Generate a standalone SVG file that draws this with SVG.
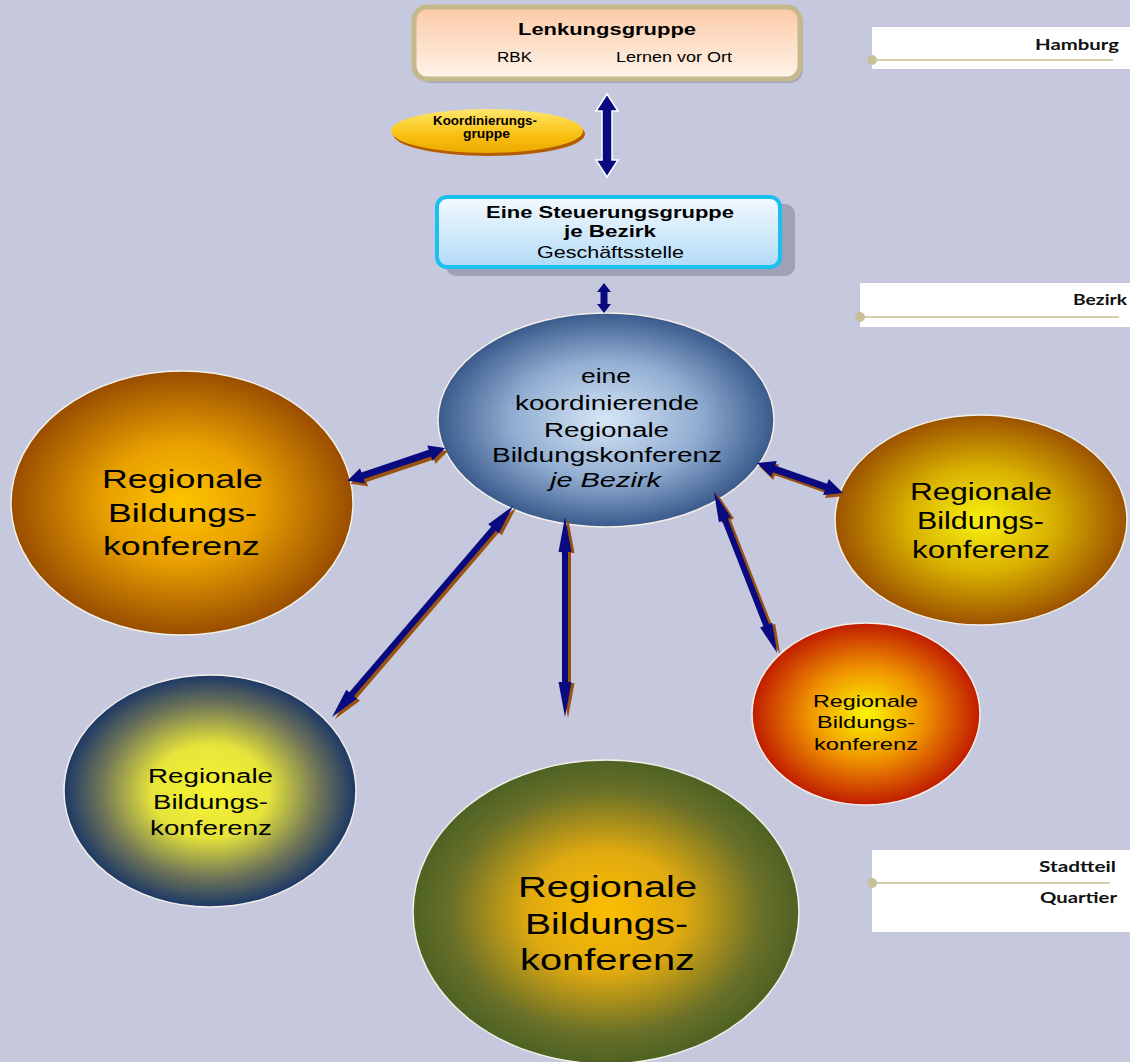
<svg xmlns="http://www.w3.org/2000/svg" width="1130" height="1062" viewBox="0 0 1130 1062">
<defs>
<style>
.t{font-family:"Liberation Sans",Arial,sans-serif;fill:#000}
.b{font-weight:bold}
.lg{font-family:Lato,"Open Sans",sans-serif;font-weight:bold;fill:#111}
.arr{fill:#0a0a80}
.sh{fill:#9a5210}
.ell{stroke:#f4f0e8;stroke-width:1.5}
.lline{stroke:#d6cfab;stroke-width:2}
.dot{fill:#c8c09a}
</style>
<linearGradient id="gPeach" x1="0" y1="0" x2="0" y2="1"><stop offset="0" stop-color="#fbcaa6"/><stop offset="1" stop-color="#fff4ea"/></linearGradient>
<linearGradient id="gSky" x1="0" y1="0" x2="0" y2="1"><stop offset="0" stop-color="#f4faff"/><stop offset="1" stop-color="#b2dbf6"/></linearGradient>
<linearGradient id="gGold" x1="0" y1="0" x2="0" y2="1"><stop offset="0" stop-color="#ffe66a"/><stop offset="0.6" stop-color="#f8c010"/><stop offset="1" stop-color="#eca800"/></linearGradient>
<radialGradient id="gBlue"><stop offset="0" stop-color="#d6e6f6"/><stop offset="0.55" stop-color="#92aed2"/><stop offset="1" stop-color="#3a5a8c"/></radialGradient>
<radialGradient id="gOrange"><stop offset="0" stop-color="#fec400"/><stop offset="0.45" stop-color="#e8a000"/><stop offset="1" stop-color="#994d00"/></radialGradient>
<radialGradient id="gYB"><stop offset="0" stop-color="#f8f210"/><stop offset="0.5" stop-color="#d8b000"/><stop offset="1" stop-color="#9c5200"/></radialGradient>
<radialGradient id="gRed"><stop offset="0" stop-color="#faf600"/><stop offset="0.5" stop-color="#f09400"/><stop offset="1" stop-color="#c01c00"/></radialGradient>
<radialGradient id="gNavy"><stop offset="0" stop-color="#f6f430"/><stop offset="0.4" stop-color="#e6e43a"/><stop offset="0.75" stop-color="#6e7458"/><stop offset="1" stop-color="#1c3866"/></radialGradient>
<radialGradient id="gGreen"><stop offset="0" stop-color="#fdbe00"/><stop offset="0.4" stop-color="#e0aa10"/><stop offset="0.8" stop-color="#6a7028"/><stop offset="1" stop-color="#4c6224"/></radialGradient>
</defs>
<rect width="1130" height="1062" fill="#c6c9dd"/>

<g id="legend-hamburg">
<rect x="872" y="27" width="258" height="42" fill="#fff"/>
<line class="lline" x1="872" y1="60" x2="1113" y2="60"/>
<circle class="dot" cx="872" cy="60" r="5"/>
<text class="lg" x="1035" y="50" font-size="15" textLength="84" lengthAdjust="spacingAndGlyphs">Hamburg</text>
</g>
<g id="legend-bezirk">
<rect x="860" y="283" width="270" height="44" fill="#fff"/>
<line class="lline" x1="860" y1="317" x2="1119" y2="317"/>
<circle class="dot" cx="860" cy="317" r="5"/>
<text class="lg" x="1073" y="305" font-size="15" textLength="54" lengthAdjust="spacingAndGlyphs">Bezirk</text>
</g>
<g id="legend-stadtteil">
<rect x="872" y="850" width="258" height="82" fill="#fff"/>
<line class="lline" x1="872" y1="883" x2="1110" y2="883"/>
<circle class="dot" cx="872" cy="883" r="5"/>
<text class="lg" x="1039" y="872" font-size="15" textLength="77" lengthAdjust="spacingAndGlyphs">Stadtteil</text>
<text class="lg" x="1040" y="903" font-size="15" textLength="77" lengthAdjust="spacingAndGlyphs">Quartier</text>
</g>

<g id="lenkungsgruppe">
<rect x="417" y="11" width="386" height="72" rx="13" fill="#9c9cae" opacity="0.7"/>
<rect x="414" y="7" width="386" height="72" rx="13" fill="url(#gPeach)" stroke="#c4b98c" stroke-width="5"/>
<text class="t b" x="518" y="35" font-size="16" textLength="178" lengthAdjust="spacingAndGlyphs">Lenkungsgruppe</text>
<text class="t" x="497" y="62" font-size="14" textLength="35" lengthAdjust="spacingAndGlyphs">RBK</text>
<text class="t" x="616" y="62" font-size="14" textLength="116" lengthAdjust="spacingAndGlyphs">Lernen vor Ort</text>
</g>

<g id="koordinierungsgruppe">
<ellipse cx="489" cy="134" rx="96" ry="22" fill="#b45c00"/>
<ellipse cx="487" cy="131" rx="96" ry="22" fill="url(#gGold)"/>
<text class="t b" x="433" y="125" font-size="12" textLength="104" lengthAdjust="spacingAndGlyphs">Koordinierungs-</text>
<text class="t b" x="463" y="138" font-size="12" textLength="47" lengthAdjust="spacingAndGlyphs">gruppe</text>
</g>

<g id="steuerungsgruppe">
<rect x="446" y="204" width="349" height="72" rx="10" fill="#9ea2b6"/>
<rect x="437" y="197" width="343" height="70" rx="10" fill="url(#gSky)" stroke="#19c0f0" stroke-width="4"/>
<text class="t b" x="486" y="218" font-size="17" textLength="248" lengthAdjust="spacingAndGlyphs">Eine Steuerungsgruppe</text>
<text class="t b" x="564" y="237" font-size="17" textLength="92" lengthAdjust="spacingAndGlyphs">je Bezirk</text>
<text class="t" x="537" y="258" font-size="17" textLength="147" lengthAdjust="spacingAndGlyphs">Geschäftsstelle</text>
</g>

<g id="rbk-links">
<ellipse class="ell" cx="182" cy="503" rx="171" ry="132" fill="url(#gOrange)"/>
<text class="t" x="102" y="488" font-size="26" textLength="161" lengthAdjust="spacingAndGlyphs">Regionale</text>
<text class="t" x="108" y="522" font-size="26" textLength="149" lengthAdjust="spacingAndGlyphs">Bildungs-</text>
<text class="t" x="103" y="555" font-size="26" textLength="157" lengthAdjust="spacingAndGlyphs">konferenz</text>
</g>

<g id="rbk-rechts">
<ellipse class="ell" cx="981" cy="520" rx="146" ry="105" fill="url(#gYB)"/>
<text class="t" x="910" y="500" font-size="23" textLength="142" lengthAdjust="spacingAndGlyphs">Regionale</text>
<text class="t" x="917" y="529" font-size="23" textLength="127" lengthAdjust="spacingAndGlyphs">Bildungs-</text>
<text class="t" x="912" y="558" font-size="23" textLength="138" lengthAdjust="spacingAndGlyphs">konferenz</text>
</g>

<g id="rbk-rot">
<ellipse class="ell" cx="866" cy="714" rx="114" ry="91" fill="url(#gRed)"/>
<text class="t" x="813" y="707" font-size="17" textLength="105" lengthAdjust="spacingAndGlyphs">Regionale</text>
<text class="t" x="817" y="728" font-size="17" textLength="98" lengthAdjust="spacingAndGlyphs">Bildungs-</text>
<text class="t" x="814" y="750" font-size="17" textLength="104" lengthAdjust="spacingAndGlyphs">konferenz</text>
</g>

<g id="rbk-navy">
<ellipse class="ell" cx="210" cy="791" rx="146" ry="116" fill="url(#gNavy)"/>
<text class="t" x="148" y="783" font-size="20" textLength="125" lengthAdjust="spacingAndGlyphs">Regionale</text>
<text class="t" x="153" y="809" font-size="20" textLength="115" lengthAdjust="spacingAndGlyphs">Bildungs-</text>
<text class="t" x="150" y="835" font-size="20" textLength="122" lengthAdjust="spacingAndGlyphs">konferenz</text>
</g>

<g id="rbk-gruen">
<ellipse class="ell" cx="606" cy="912" rx="193" ry="152" fill="url(#gGreen)"/>
<text class="t" x="518" y="897" font-size="30" textLength="179" lengthAdjust="spacingAndGlyphs">Regionale</text>
<text class="t" x="525" y="934" font-size="30" textLength="163" lengthAdjust="spacingAndGlyphs">Bildungs-</text>
<text class="t" x="520" y="970" font-size="30" textLength="175" lengthAdjust="spacingAndGlyphs">konferenz</text>
</g>

<g id="rbk-zentral">
<ellipse class="ell" cx="606" cy="420" rx="168" ry="107" fill="url(#gBlue)"/>
<text class="t" x="581" y="383" font-size="20" textLength="50" lengthAdjust="spacingAndGlyphs">eine</text>
<text class="t" x="515" y="410" font-size="20" textLength="184" lengthAdjust="spacingAndGlyphs">koordinierende</text>
<text class="t" x="544" y="437" font-size="20" textLength="125" lengthAdjust="spacingAndGlyphs">Regionale</text>
<text class="t" x="492" y="462" font-size="20" textLength="230" lengthAdjust="spacingAndGlyphs">Bildungskonferenz</text>
<text class="t" x="550" y="487" font-size="20" font-style="italic" textLength="111" lengthAdjust="spacingAndGlyphs">je Bezirk</text>
</g>

<g id="connectors">
<g transform="translate(607,94) rotate(90)">
<polygon class="arr" stroke="#ffffff" stroke-width="1.5" points="0,0 17,-11 17,-5 66,-5 66,-11 83,0 66,11 66,5 17,5 17,11"/>
</g>
<g transform="translate(604,283) rotate(90)">
<polygon class="arr" points="0,0 9,-7 9,-3.5 21,-3.5 21,-7 30,0 21,7 21,3.5 9,3.5 9,7"/>
</g>
<g transform="translate(448,451) rotate(161.4)"><polygon class="sh" points="0,0 16,-8 16,-3.5 87,-3.5 87,-8 103,0 87,8 87,3.5 16,3.5 16,8"/></g>
<g transform="translate(445,448) rotate(161.4)"><polygon class="arr" points="0,0 16,-8 16,-3.5 87,-3.5 87,-8 103,0 87,8 87,3.5 16,3.5 16,8"/></g>
<g transform="translate(516,508) rotate(130.6)"><polygon class="sh" points="0,0 30,-7 30,-3 248,-3 248,-7 278,0 248,7 248,3 30,3 30,7"/></g>
<g transform="translate(513,506) rotate(130.6)"><polygon class="arr" points="0,0 30,-7 30,-3 248,-3 248,-7 278,0 248,7 248,3 30,3 30,7"/></g>
<g transform="translate(568,518) rotate(90)"><polygon class="sh" points="0,0 35,-6.5 35,-3 165,-3 165,-6.5 200,0 165,6.5 165,3 35,3 35,6.5"/></g>
<g transform="translate(565,517) rotate(90)"><polygon class="arr" points="0,0 35,-6.5 35,-3 165,-3 165,-6.5 200,0 165,6.5 165,3 35,3 35,6.5"/></g>
<g transform="translate(717,493) rotate(68.6)"><polygon class="sh" points="0,0 30,-6.5 30,-3 143,-3 143,-6.5 173,0 143,6.5 143,3 30,3 30,6.5"/></g>
<g transform="translate(714,492) rotate(68.6)"><polygon class="arr" points="0,0 30,-6.5 30,-3 143,-3 143,-6.5 173,0 143,6.5 143,3 30,3 30,6.5"/></g>
<g transform="translate(759,466) rotate(19.2)"><polygon class="sh" points="0,0 18,-8.5 18,-3.5 73,-3.5 73,-8.5 91,0 73,8.5 73,3.5 18,3.5 18,8.5"/></g>
<g transform="translate(757,463) rotate(19.2)"><polygon class="arr" points="0,0 18,-8.5 18,-3.5 73,-3.5 73,-8.5 91,0 73,8.5 73,3.5 18,3.5 18,8.5"/></g>
</g>
</svg>
